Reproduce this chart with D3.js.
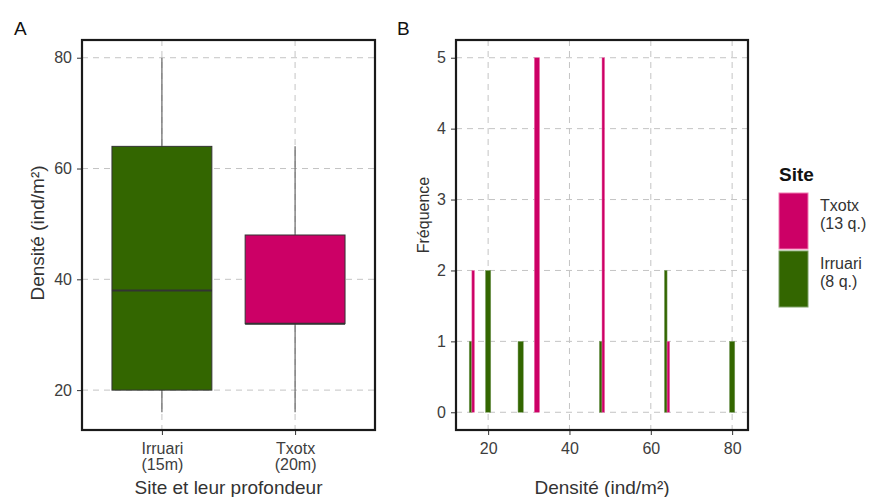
<!DOCTYPE html>
<html>
<head>
<meta charset="utf-8">
<script src="https://cdn.jsdelivr.net/npm/d3@7"></script>
<style>
  body { margin: 0; background: #fff; }
  svg { font-family: "Liberation Sans", Arial, sans-serif; }
</style>
</head>
<body>
<div id="chart"></div>
<script>
// quadrat densities (ind/m2)
var sites = ['Irruari', 'Txotx'];
var siteLabels = [['Irruari', '(15m)'], ['Txotx', '(20m)']];
var irruari = [16, 20, 20, 28, 48, 64, 64, 80];
var txotx = [16, 16, 32, 32, 32, 32, 32, 48, 48, 48, 48, 48, 64];
var densTicks = [20, 40, 60, 80];
var freqTicks = [0, 1, 2, 3, 4, 5];
var legendItems = [['Txotx', '(13 q.)'], ['Irruari', '(8 q.)']];

var colors = { Irruari: '#336600', Txotx: '#cc0066' };
var edge = { Irruari: '#7fa066', Txotx: '#f07ab0' };
var binWidth = 1.3;
var gridColor = '#c4c4c4', gridDash = '6,5';

var svg = d3.select('#chart').append('svg')
   .attr('width', 873)
   .attr('height', 497);

// ---------- panel A : boxplot ----------
var A = { left: 82, right: 375, top: 40, bottom: 430 };

var xA = d3.scalePoint().domain(sites).range([A.left, A.right]).padding(0.6);
var stepA = xA.step();
var yA = d3.scaleLinear().domain([12.8, 83.2]).range([A.bottom, A.top]);

var gA = svg.append('g');

// grid
gA.selectAll('.hgrid').data(densTicks).enter().append('line')
   .attr('x1', A.left).attr('x2', A.right)
   .attr('y1', function(d){ return yA(d); })
   .attr('y2', function(d){ return yA(d); })
   .attr('stroke', gridColor).attr('stroke-dasharray', gridDash);
gA.selectAll('.vgrid').data(sites).enter().append('line')
   .attr('y1', A.top).attr('y2', A.bottom)
   .attr('x1', function(d){ return xA(d); })
   .attr('x2', function(d){ return xA(d); })
   .attr('stroke', gridColor).attr('stroke-dasharray', gridDash);

var stats = sites.map(function(s){
   var v = (s == 'Irruari' ? irruari : txotx).slice().sort(d3.ascending);
   var q1 = d3.quantile(v, 0.25), q3 = d3.quantile(v, 0.75), iqr = q3 - q1;
   return {
      site: s,
      q1: q1, med: d3.quantile(v, 0.5), q3: q3,
      lo: d3.min(v.filter(function(x){ return x >= q1 - 1.5 * iqr; })),
      hi: d3.max(v.filter(function(x){ return x <= q3 + 1.5 * iqr; }))
   };
});

var boxW = stepA * 0.75;
var box = gA.selectAll('.box').data(stats).enter().append('g');
box.append('line')
   .attr('x1', function(d){ return xA(d.site); })
   .attr('x2', function(d){ return xA(d.site); })
   .attr('y1', function(d){ return yA(d.lo); })
   .attr('y2', function(d){ return yA(d.hi); })
   .attr('stroke', '#666').attr('stroke-width', 1.2);
box.append('rect')
   .attr('x', function(d){ return xA(d.site) - boxW / 2; })
   .attr('width', boxW)
   .attr('y', function(d){ return yA(d.q3); })
   .attr('height', function(d){ return yA(d.q1) - yA(d.q3); })
   .attr('fill', function(d){ return colors[d.site]; })
   .attr('stroke', '#333').attr('stroke-width', 1);
box.append('line')
   .attr('x1', function(d){ return xA(d.site) - boxW / 2; })
   .attr('x2', function(d){ return xA(d.site) + boxW / 2; })
   .attr('y1', function(d){ return yA(d.med); })
   .attr('y2', function(d){ return yA(d.med); })
   .attr('stroke', '#333').attr('stroke-width', 2);

// axes A
gA.append('g').attr('transform', 'translate(' + A.left + ',0)')
   .call(d3.axisLeft(yA).tickValues(densTicks).tickSize(5).tickPadding(5));
var axBotA = gA.append('g').attr('transform', 'translate(0,' + A.bottom + ')')
   .call(d3.axisBottom(xA).tickSize(5).tickFormat(''));
axBotA.selectAll('.tick').append('text')
   .attr('text-anchor', 'middle')
   .selectAll('tspan').data(function(d){ return siteLabels[sites.indexOf(d)]; })
   .enter().append('tspan')
   .attr('x', 0)
   .attr('y', function(d, i){ return 24 + i * 16; })
   .text(function(d){ return d; });

gA.append('rect')
   .attr('x', A.left).attr('y', A.top)
   .attr('width', A.right - A.left).attr('height', A.bottom - A.top)
   .attr('fill', 'none').attr('stroke', '#1a1a1a').attr('stroke-width', 2.2);

gA.append('text').attr('x', 14).attr('y', 35).attr('font-size', 19).attr('fill', '#111').text('A');
gA.append('text')
   .attr('transform', 'translate(44,233) rotate(-90)')
   .attr('text-anchor', 'middle').attr('font-size', 19).attr('fill', '#333')
   .text('Densité (ind/m²)');
gA.append('text')
   .attr('x', (A.left + A.right) / 2).attr('y', 494)
   .attr('text-anchor', 'middle').attr('font-size', 19).attr('fill', '#333')
   .text('Site et leur profondeur');

// ---------- panel B : histogram ----------
var B = { left: 456, right: 748, top: 40, bottom: 430 };
var xB = d3.scaleLinear().domain([12.1, 83.9]).range([B.left, B.right]);
var yB = d3.scaleLinear().domain([-0.25, 5.25]).range([B.bottom, B.top]);

var gB = svg.append('g');
gB.selectAll('.hgrid').data(freqTicks).enter().append('line')
   .attr('x1', B.left).attr('x2', B.right)
   .attr('y1', function(d){ return yB(d); })
   .attr('y2', function(d){ return yB(d); })
   .attr('stroke', gridColor).attr('stroke-dasharray', gridDash);
gB.selectAll('.vgrid').data(densTicks).enter().append('line')
   .attr('y1', B.top).attr('y2', B.bottom)
   .attr('x1', function(d){ return xB(d); })
   .attr('x2', function(d){ return xB(d); })
   .attr('stroke', gridColor).attr('stroke-dasharray', gridDash);

// counts per value and site, dodged when both sites share a value
var counts = [];
var values = d3.sort(d3.union(irruari, txotx));
values.forEach(function(v){
   var here = [];
   sites.forEach(function(s){
      var n = (s == 'Irruari' ? irruari : txotx).filter(function(x){ return x == v; }).length;
      if (n) here.push({ site: s, value: v, n: n });
   });
   here.forEach(function(d, i){
      d.w = binWidth / here.length;
      d.x0 = v - binWidth / 2 + i * d.w;
      counts.push(d);
   });
});

gB.selectAll('.bar').data(counts).enter().append('rect')
   .attr('x', function(d){ return xB(d.x0); })
   .attr('width', function(d){ return xB(d.x0 + d.w) - xB(d.x0); })
   .attr('y', function(d){ return yB(d.n); })
   .attr('height', function(d){ return yB(0) - yB(d.n); })
   .attr('fill', function(d){ return colors[d.site]; })
   .attr('stroke', function(d){ return edge[d.site]; })
   .attr('stroke-width', 0.5);

gB.append('g').attr('transform', 'translate(' + B.left + ',0)')
   .call(d3.axisLeft(yB).tickValues(freqTicks).tickFormat(d3.format('d')).tickSize(5).tickPadding(5));
gB.append('g').attr('transform', 'translate(0,' + B.bottom + ')')
   .call(d3.axisBottom(xB).tickValues(densTicks).tickSize(5).tickPadding(8));

gB.append('rect')
   .attr('x', B.left).attr('y', B.top)
   .attr('width', B.right - B.left).attr('height', B.bottom - B.top)
   .attr('fill', 'none').attr('stroke', '#1a1a1a').attr('stroke-width', 2.2);

gB.append('text').attr('x', 397).attr('y', 35).attr('font-size', 19).attr('fill', '#111').text('B');
gB.append('text')
   .attr('transform', 'translate(429,215) rotate(-90)')
   .attr('text-anchor', 'middle').attr('font-size', 16).attr('fill', '#333')
   .text('Fréquence');
gB.append('text')
   .attr('x', (B.left + B.right) / 2).attr('y', 494)
   .attr('text-anchor', 'middle').attr('font-size', 19).attr('fill', '#333')
   .text('Densité (ind/m²)');

// style all axes
svg.selectAll('.domain').remove();
svg.selectAll('.tick line').attr('stroke', '#333');
svg.selectAll('.tick text').attr('fill', '#3d3d3d')
   .attr('font-size', 16).attr('font-family', '"Liberation Sans", Arial, sans-serif');

// ---------- legend ----------
var leg = svg.append('g').attr('transform', 'translate(779,0)');
leg.append('text').attr('x', 0).attr('y', 181)
   .attr('font-size', 19).attr('font-weight', 'bold').attr('fill', '#111').text('Site');
var li = leg.selectAll('.item').data(legendItems).enter().append('g')
   .attr('transform', function(d, i){ return 'translate(0,' + (193 + i * 58) + ')'; });
li.append('rect')
   .attr('width', 29).attr('height', 56)
   .attr('fill', function(d){ return colors[d[0]]; })
   .attr('stroke', function(d){ return edge[d[0]]; })
   .attr('stroke-width', 1);
li.append('text').attr('x', 41).attr('y', 18)
   .attr('font-size', 16).attr('fill', '#333')
   .selectAll('tspan').data(function(d){ return d; }).enter().append('tspan')
   .attr('x', 41).attr('dy', function(d, i){ return i ? 18 : 0; })
   .text(function(d){ return d; });
</script>
</body>
</html>
